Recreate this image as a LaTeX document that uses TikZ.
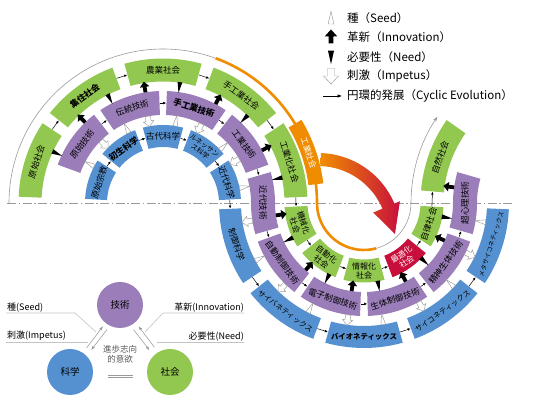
\documentclass[tikz,border=0pt]{standalone}
\usepackage{fontspec}
\setmainfont{Noto Sans CJK JP}
\usetikzlibrary{arrows.meta,calc}
\definecolor{cgreen}{HTML}{92C850}
\definecolor{cpurple}{HTML}{9B7DB9}
\definecolor{cblue}{HTML}{5591D0}
\definecolor{cred}{HTML}{C80F3C}
\definecolor{corange}{HTML}{F08C00}
\definecolor{cgray}{HTML}{9A9A9A}
\definecolor{gline}{HTML}{C4C4C4}
\newcommand{\segfill}[6]{\fill[#6] ($(#1)+({#4}:{#2+#3/2})$) arc[start angle={#4}, end angle={#5}, radius={#2+#3/2}] -- ($(#1)+({#5}:{#2-#3/2})$) arc[start angle={#5}, end angle={#4}, radius={#2-#3/2}] -- cycle;}
\newcommand{\rbox}[5][]{%
  \segfill{\cc}{\rr}{\ww}{#3-#4}{#3+#4}{\col}
  \coordinate (#2-s) at ($(\cc)+({#3-(\dd)*#4}:{\rr})$);
  \coordinate (#2-e) at ($(\cc)+({#3+(\dd)*#4}:{\rr})$);
  \node[boxtext, rotate={#3+(\dd)*90}, #1] (#2) at ($(\cc)+({#3}:{\rr})$) {#5};}
\begin{document}
\begin{tikzpicture}[x=1pt,y=1pt,
 boxtext/.style={inner sep=0pt, align=center, font=\fontsize{8.5}{9.5}\selectfont},
 two/.style={font=\fontsize{8}{9}\selectfont},
 kana/.style={font=\fontsize{7.4}{8.5}\selectfont},
 cyc/.style={line width=0.5pt, -{Latex[length=3pt,width=2.6pt]}, shorten <=0.3pt, shorten >=0.3pt},
 legtext/.style={anchor=west, inner sep=0pt, font=\fontsize{11.5}{13}\selectfont},
 smalltext/.style={inner sep=0pt, font=\fontsize{9}{10}\selectfont},
 gar/.style={draw=cgray, line width=0.55pt, -{Latex[length=4pt,width=3pt]}},
 lbl/.style={draw=gline, line width=0.6pt},
 circ/.style={circle, minimum size=46pt, inner sep=0pt, font=\fontsize{9.5}{11}\selectfont},
 seedg/.pic={\draw[cgray, fill=white, line width=0.45pt] (-2.4,-5) -- (0,5.5) -- (2.4,-5) -- cycle;},
 innog/.pic={\fill[black] (-1.9,-5) -- (-1.9,0.5) -- (-4.8,0.5) -- (0,5.8) -- (4.8,0.5) -- (1.9,0.5) -- (1.9,-5) -- cycle;},
 needg/.pic={\fill[black] (-2.4,5) -- (2.4,5) -- (0,-5.8) -- cycle;},
 impg/.pic={\draw[cgray, fill=white, line width=0.45pt] (-2.6,5) -- (2.6,5) -- (2.6,0) -- (5.2,0) -- (0,-5.5) -- (-5.2,0) -- (-2.6,0) -- cycle;}
]
\useasboundingbox (0,0) rectangle (560,420);
\coordinate (A) at (163,217);
\coordinate (B) at (364,217);
\coordinate (C) at (565,217);
\coordinate (L1) at (7,217);
\coordinate (L2) at (513,217);
\draw[cgray, line width=0.6pt, dash pattern=on 9pt off 2.5pt on 1.5pt off 2.5pt] (L1) -- (L2);
% thin spiral
\draw[cgray, line width=0.6pt] ($(A)+(180:154)$) arc[start angle=180,end angle=70,radius=154];
\draw[corange, line width=2.6pt] ($(A)+(70:154)$) arc[start angle=70,end angle=0,radius=154] arc[start angle=180,end angle=285,radius=47];
\draw[cgray, line width=0.6pt, -{Stealth[length=5pt,width=3.5pt]}] ($(B)+(285:47)$) arc[start angle=285,end angle=360,radius=47] arc[start angle=180,end angle=146,radius=154];
% upper rings
\def\cc{A}\def\dd{-1}
\def\rr{67}\def\ww{22}\def\col{cblue}
\rbox{g1}{162}{15}{原始宗教}
\rbox{g2}{126}{15}{\bfseries 初生科学}
\rbox{g3}{90}{15}{古代科学}
\rbox[font=\fontsize{6.8}{7.6}\selectfont]{g4}{54}{15}{ルネッサン\\ス科学}
\rbox{g5}{18}{15}{近代科学}
\def\rr{100}\def\ww{24}\def\col{cpurple}
\rbox{t1}{144}{16}{原始技術}
\rbox{t2}{108}{16}{伝統技術}
\rbox{t3}{72}{16}{\bfseries 手工業技術}
\rbox{t4}{36}{16}{工業技術}
\def\rr{133}\def\ww{23}\def\col{cgreen}
\rbox{s1}{162}{15.5}{原始社会}
\rbox{s2}{126}{15.5}{\bfseries 集住社会}
\rbox{s3}{90}{15.5}{農業社会}
\rbox{s4}{54}{15.5}{手工業社会}
\rbox{s5}{18}{15.5}{工業化社会}
% straddling purple boxes
\segfill{A}{100}{24}{-0.6}{16}{cpurple}
\segfill{B}{101}{24}{180}{196}{cpurple}
\coordinate (t5-s) at ($(A)+(16:100)$);
\coordinate (t5-e) at ($(B)+(196:101)$);
\node[boxtext, rotate=-90] (t5) at (263,217) {近代技術};
\segfill{B}{101}{24}{344}{360.6}{cpurple}
\segfill{C}{100}{24}{164}{180}{cpurple}
\coordinate (t10-s) at ($(B)+(344:101)$);
\coordinate (t10-e) at ($(C)+(164:100)$);
\node[boxtext, rotate=90] (t10) at (465,217) {超心理技術};
% lower rings
\def\cc{B}\def\dd{1}
\def\rr{68}\def\ww{23}\def\col{cgreen}
\rbox[two]{s6}{198}{15}{機械化\\社会}
\rbox[two]{s7}{234}{15}{自動化\\社会}
\rbox[two]{s8}{270}{15}{情報化\\社会}
\def\col{cred}
\rbox[two,text=white]{s9}{306}{15}{最適化\\社会}
\def\col{cgreen}
\rbox{s10}{342}{15}{自律社会}
\def\rr{101}\def\ww{24}\def\col{cpurple}
\rbox{t6}{216}{16}{自動制御技術}
\rbox{t7}{252}{16}{電子制御技術}
\rbox{t8}{288}{16}{生体制御技術}
\rbox{t9}{324}{16}{精神生体技術}
\def\rr{134}\def\ww{22}\def\col{cblue}
\rbox{g6}{198}{15.5}{制御科学}
\rbox[kana]{g7}{234}{15.5}{サイバネティックス}
\rbox[kana]{g8}{270}{15.5}{\bfseries バイオネティックス}
\rbox[kana]{g9}{306}{15.5}{サイコネティックス}
\rbox[font=\fontsize{6.2}{7}\selectfont]{g10}{342}{15.5}{メタサイコネティックス}
\def\cc{C}\def\dd{-1}
\def\rr{133}\def\ww{23}\def\col{cgreen}
\rbox{s11}{160}{15}{自然社会}
% orange box
\segfill{A}{154}{15}{7}{31}{corange}
\node[boxtext, rotate=-71, text=white, font=\fontsize{8}{9}\selectfont] (kogyo) at ($(A)+(19:154)$) {工業社会};
% cyclic arrows
\foreach \a/\b in {g1/g2,g2/g3,g3/g4,g4/g5,g5/g6,g6/g7,g7/g8,g8/g9,g9/g10,
  t1/t2,t2/t3,t3/t4,t4/t5,t5/t6,t6/t7,t7/t8,t8/t9,t9/t10,
  s1/s2,s2/s3,s3/s4,s4/s5,s5/s6,s6/s7,s7/s8,s8/s9,s9/s10,s10/s11}
  \draw[cyc] (\a-e) -- (\b-s);
% glyphs upper
\foreach \t in {155,117,82,46,12} \pic[rotate=\t-90] at ($(A)+(\t:117)$) {needg};
\foreach \t in {134,99,62,28} \pic[rotate=\t-90] at ($(A)+(\t:117)$) {innog};
\foreach \t in {152,116,81,43,11} \pic[rotate=\t-90] at ($(A)+(\t:83)$) {seedg};
\foreach \t in {135,100,64,30} \pic[rotate=\t-90] at ($(A)+(\t:83)$) {impg};
% glyphs lower
\foreach \t in {188,229,262,298,335} \pic[rotate=\t+90] at ($(B)+(\t:84)$) {innog};
\foreach \t in {206,244,280,316,350} \pic[rotate=\t+90] at ($(B)+(\t:84)$) {needg};
\foreach \t in {189,226,262,299,334} \pic[rotate=\t+90] at ($(B)+(\t:118)$) {impg};
\foreach \t in {208,243,279,317,351} \pic[rotate=\t+90] at ($(B)+(\t:118)$) {seedg};
\pic[rotate=172-90] at ($(C)+(172:117)$) {innog};
% big arrow
\coordinate (O) at (318,184);
\shade[left color=corange, right color=cred] ($(O)+(88:83)$) arc[start angle=88,end angle=23,radius=83] -- ($(O)+(23:89)$) -- ($(O)+(1.5:77)$) -- ($(O)+(23:60)$) -- ($(O)+(23:70)$) arc[start angle=23,end angle=88,radius=70] -- cycle;
% legend
\pic[scale=1.2] at (331,402) {seedg};
\pic[scale=1.3] at (331,383) {innog};
\pic[scale=1.25] at (331,363) {needg};
\pic[scale=1.45] at (331,344) {impg};
\coordinate (la) at (323,324);
\coordinate (lb) at (342,324);
\draw[line width=0.6pt, -{Latex[length=4.5pt,width=3.5pt]}] (la) -- (lb);
\node[legtext] (l1) at (347,402) {種（Seed）};
\node[legtext] (l2) at (347,383) {革新（Innovation）};
\node[legtext] (l3) at (347,363) {必要性（Need）};
\node[legtext] (l4) at (347,344) {刺激（Impetus）};
\node[legtext] (l5) at (347,324) {円環的発展（Cyclic Evolution）};
% small triangle diagram
\node[circ, fill=cpurple] (gij) at (120,115) {技術};
\node[circ, fill=cblue] (kag) at (70,48) {科学};
\node[circ, fill=cgreen] (sha) at (170,48) {社会};
\draw[gar, shorten <=6pt, shorten >=4pt] (kag.56) -- (gij.231);
\draw[gar, shorten <=4.7pt, shorten >=7.4pt] (gij.244) -- (kag.44);
\draw[gar, shorten <=5pt, shorten >=6.7pt] (gij.297) -- (sha.135);
\draw[gar, shorten <=6pt, shorten >=5pt] (sha.121) -- (gij.312);
\coordinate (ps1) at (6,107); \coordinate (ps2) at (75,107); \coordinate (ps3) at (96,88);
\coordinate (pi1) at (6,78); \coordinate (pi2) at (88,78);
\coordinate (pn1) at (244,107); \coordinate (pn2) at (163,107); \coordinate (pn3) at (145,88);
\coordinate (pd1) at (244,78); \coordinate (pd2) at (157,78);
\draw[lbl] (ps1) -- (ps2) -- (ps3);
\draw[lbl] (pi1) -- (pi2);
\draw[lbl] (pn1) -- (pn2) -- (pn3);
\draw[lbl] (pd1) -- (pd2);
\node[smalltext, anchor=south west] (seedl) at (7,108) {種(Seed)};
\node[smalltext, anchor=south west] (impl) at (7,79) {刺激(Impetus)};
\node[smalltext, anchor=south east] (innol) at (244,108) {革新(Innovation)};
\node[smalltext, anchor=south east] (needl) at (244,79) {必要性(Need)};
\node[inner sep=0pt, align=center, text=black!65, font=\fontsize{8.5}{10}\selectfont] (ishi) at (120,66) {進歩志向\\的意欲};
\coordinate (e1) at (108,45); \coordinate (e2) at (133,45);
\coordinate (e3) at (108,42.5); \coordinate (e4) at (133,42.5);
\draw[cgray, line width=0.5pt] (e1) -- (e2);
\draw[cgray, line width=0.5pt] (e3) -- (e4);
\end{tikzpicture}
\end{document}
